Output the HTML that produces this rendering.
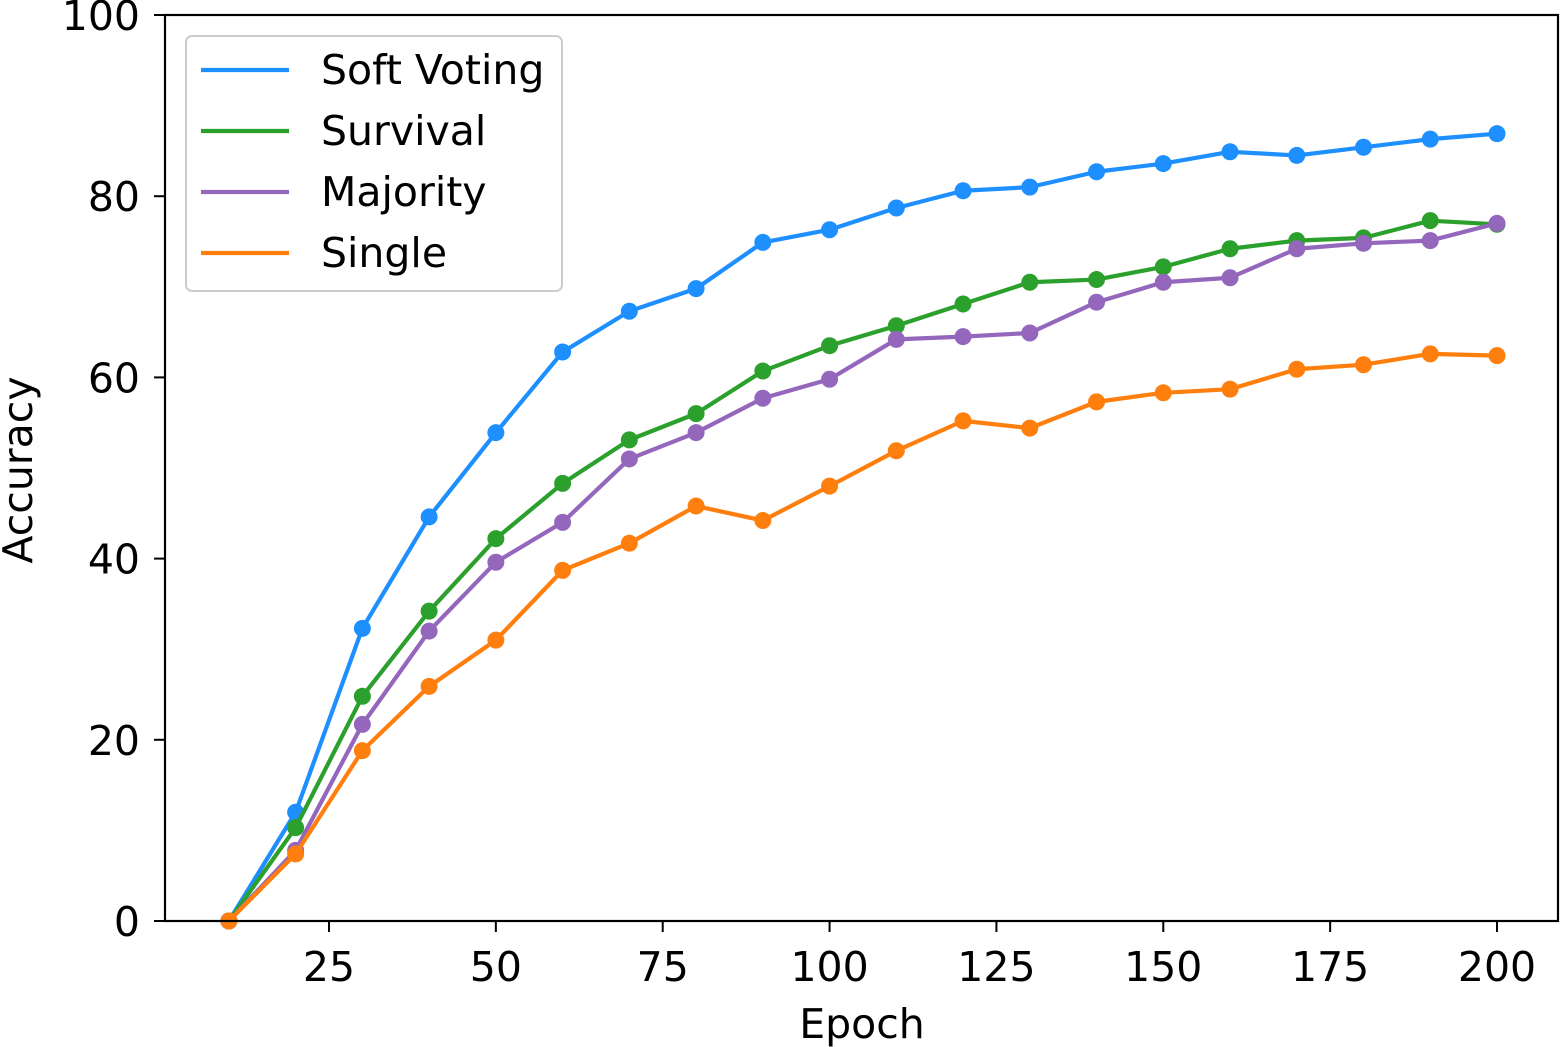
<!DOCTYPE html>
<html><head><meta charset="utf-8"><style>
html,body{margin:0;padding:0;background:#fff}
svg{display:block;font-family:"DejaVu Sans","Liberation Sans",sans-serif}
</style></head><body>
<svg id="chart" width="1560" height="1047" viewBox="0 0 1560 1047">
<rect width="1560" height="1047" fill="#fff"/>
<g id="series"></g>
<rect x="165" y="15" width="1393" height="906" fill="none" stroke="#000" stroke-width="2.2"/>
<g id="xticks"></g><g id="yticks"></g>
<text x="862" y="1038" font-size="41" text-anchor="middle">Epoch</text>
<text transform="translate(32,470) rotate(-90)" font-size="41" text-anchor="middle">Accuracy</text>
<g id="legend">
<rect x="186" y="36" width="376" height="255" rx="6" fill="#fff" fill-opacity="0.8" stroke="#ccc" stroke-width="2"/>
</g>
</svg>
<script>
const epochs=[10,20,30,40,50,60,70,80,90,100,110,120,130,140,150,160,170,180,190,200];
const softVoting=[0,12.0,32.3,44.6,53.9,62.8,67.3,69.8,74.9,76.3,78.7,80.6,81.0,82.7,83.6,84.9,84.5,85.4,86.3,86.9];
const survival=[0,10.3,24.8,34.2,42.2,48.3,53.1,56.0,60.7,63.5,65.7,68.1,70.5,70.8,72.2,74.2,75.1,75.4,77.3,76.9];
const majority=[0,7.8,21.7,32.0,39.6,44.0,51.0,53.9,57.7,59.8,64.2,64.5,64.9,68.3,70.5,71.0,74.2,74.8,75.1,77.0];
const single=[0,7.4,18.8,25.9,31.0,38.7,41.7,45.8,44.2,48.0,51.9,55.2,54.4,57.3,58.3,58.7,60.9,61.4,62.6,62.4];
const seriesNames=["Soft Voting","Survival","Majority","Single"];
const xTickVals=[25,50,75,100,125,150,175,200];
const yTickVals=[0,20,40,60,80,100];
const NS="http://www.w3.org/2000/svg";
const xs=v=>329+(v-25)*(1168/175);
const ys=v=>921-v*9.06;
function mk(t,a,p){const e=document.createElementNS(NS,t);for(const k in a)e.setAttribute(k,a[k]);p.appendChild(e);return e;}
const all=[softVoting,survival,majority,single];
const colors=["#1e8fff","#2ca02c","#9467bd","#ff7f0e"];
const keys=["soft-voting","survival","majority","single"];
const sg=document.getElementById("series");
all.forEach((d,i)=>{
 const g=mk("g",{},sg);
 
 
 const pts=d.map((v,j)=>xs(epochs[j])+","+ys(v)).join(" ");
 const l=mk("polyline",{points:pts,fill:"none",stroke:colors[i],"stroke-width":4.2,"stroke-linejoin":"round"},g);
 
 
 d.forEach((v,j)=>{
  const c=mk("circle",{cx:xs(epochs[j]),cy:ys(v),r:8.5,fill:colors[i]},g);
  
  
 });
});
const xg=document.getElementById("xticks");
xTickVals.forEach(v=>{
 mk("line",{x1:xs(v),x2:xs(v),y1:921,y2:932,stroke:"#000","stroke-width":2},xg);
 const t=mk("text",{x:xs(v),y:981,"font-size":41,"text-anchor":"middle"},xg);t.textContent=v;
 
 
});
const yg=document.getElementById("yticks");
yTickVals.forEach(v=>{
 mk("line",{x1:154,x2:165,y1:ys(v),y2:ys(v),stroke:"#000","stroke-width":2},yg);
 const t=mk("text",{x:140,y:ys(v)+15,"font-size":41,"text-anchor":"end"},yg);t.textContent=v;
 
 
});
const lg=document.getElementById("legend");
seriesNames.forEach((n,i)=>{
 const y=70+i*61;
 const g=mk("g",{},lg);
 
 
 mk("line",{x1:201,x2:289,y1:y,y2:y,stroke:colors[i],"stroke-width":4.2},g);
 const t=mk("text",{x:321,y:y+14,"font-size":41},g);t.textContent=n;
});
</script>
</body></html>
